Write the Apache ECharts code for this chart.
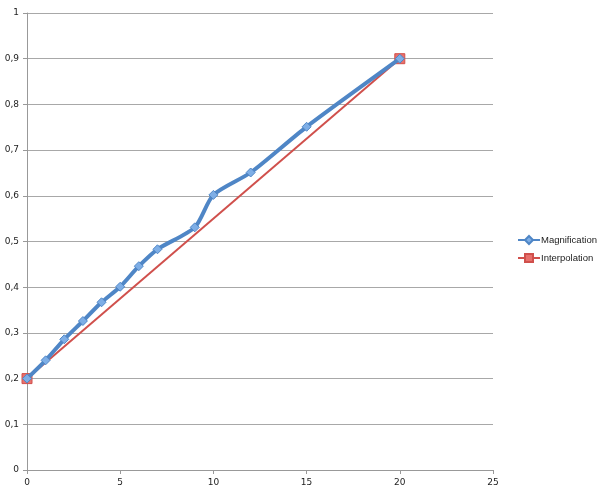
<!DOCTYPE html>
<html><head><meta charset="utf-8">
<script src="https://cdn.jsdelivr.net/npm/echarts@6/dist/echarts.min.js"></script>
<style>html,body{margin:0;padding:0;background:#fff}#c{width:600px;height:500px}</style>
</head><body><div id="c"></div>
<script>
var magX = [0, 1, 2, 3, 4, 5, 6, 7, 9, 10, 12, 15, 20];
var magY = [0.2, 0.24, 0.286, 0.326, 0.367, 0.401, 0.446, 0.483, 0.531, 0.602, 0.651, 0.751, 0.9];
var interpX = [0, 20];
var interpY = [0.2, 0.9];
var seriesNames = ['Magnification', 'Interpolation'];

function pairs(xs, ys){ return xs.map(function(x,i){ return [x, ys[i]]; }); }

var chart = echarts.init(document.getElementById('c'));
chart.setOption({
  animation: false,
  textStyle: {fontFamily: 'DejaVu Sans'},
  legend: {
    orient: 'vertical', left: 512, top: 230, itemGap: 8,
    itemWidth: 22, itemHeight: 10,
    textStyle: {fontSize: 9.5, fontFamily: 'Liberation Sans', color: '#222', padding: [0,0,0,-4]},
    data: seriesNames
  },
  grid: {left: 27, right: 107, top: 13, bottom: 30},
  xAxis: {
    type: 'value', min: 0, max: 25, interval: 5,
    axisLine: {lineStyle: {color: '#999'}},
    axisTick: {show: true, length: 4, lineStyle: {color: '#999'}},
    axisLabel: {fontSize: 9, color: '#222', margin: 8},
    splitLine: {show: false}
  },
  yAxis: {
    type: 'value', min: 0, max: 1, interval: 0.1,
    axisLine: {show: true, lineStyle: {color: '#999'}},
    axisTick: {show: true, length: 4, lineStyle: {color: '#999'}},
    axisLabel: {fontSize: 9, color: '#222', margin: 8,
      formatter: function(v){ return String(Math.round(v*10)/10).replace('.', ','); }},
    splitLine: {lineStyle: {color: '#a8a8a8', width: 1}}
  },
  series: [
    {
      name: seriesNames[1], type: 'line', data: pairs(interpX, interpY),
      symbol: 'rect', symbolSize: 10, z: 2,
      lineStyle: {color: '#d0504c', width: 2},
      itemStyle: {color: '#e8706c', borderColor: '#d0504c', borderWidth: 1}
    },
    {
      name: seriesNames[0], type: 'line', data: pairs(magX, magY),
      smooth: 0.25, symbol: 'diamond', symbolSize: 9, z: 3,
      lineStyle: {color: '#4f86c6', width: 4},
      itemStyle: {color: '#7eaee6', borderColor: '#4f86c6', borderWidth: 1}
    }
  ]
});
</script></body></html>
